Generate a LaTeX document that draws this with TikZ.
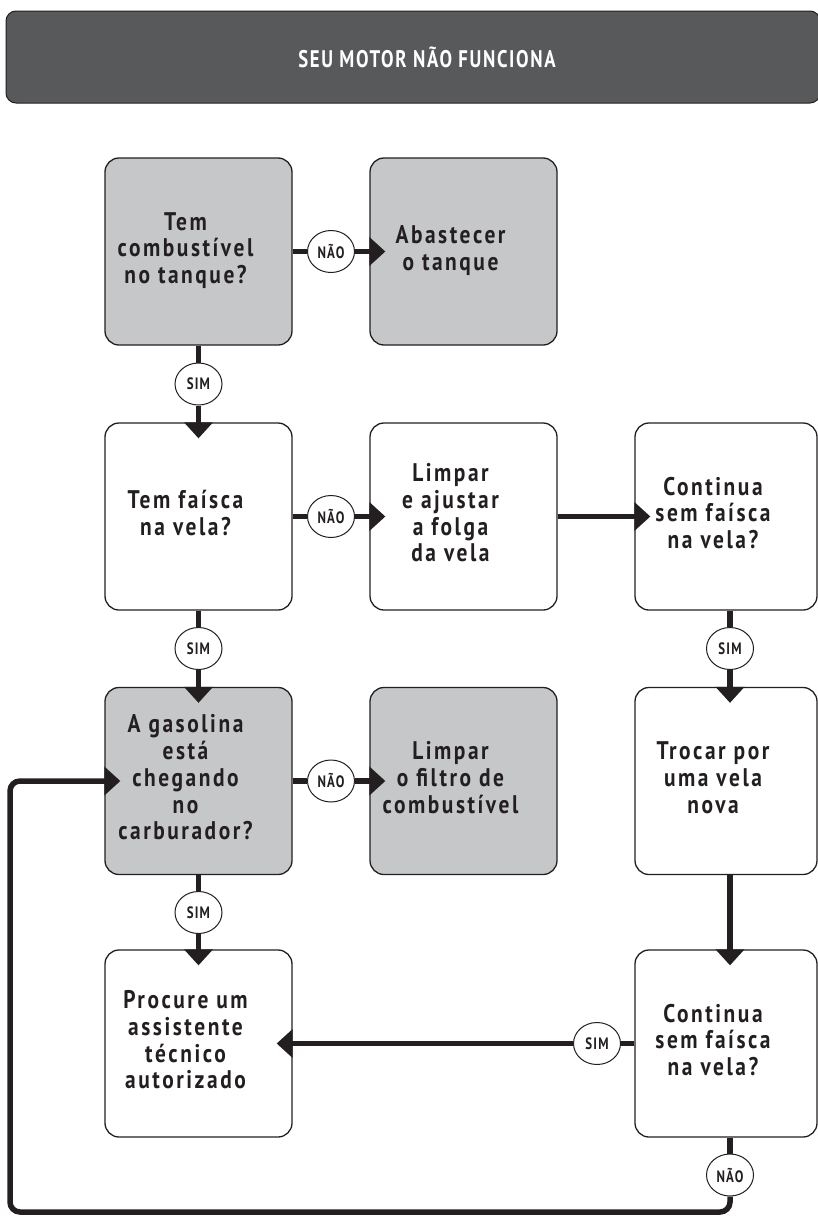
\documentclass[tikz,border=0pt]{standalone}
\usepackage{fontspec}
\setmainfont{PT Sans}[FakeStretch=0.84, LetterSpace=10]
\newfontfamily\narrowfont{PT Sans}[FakeStretch=0.78, LetterSpace=7]
\usetikzlibrary{arrows.meta,calc,shapes.geometric}
\definecolor{hdr}{HTML}{58595B}
\definecolor{boxgray}{HTML}{C6C7C9}
\definecolor{ink}{HTML}{231F20}
% box text, set slightly left of the box centre as in the reference
\newcommand{\bxtext}[1]{\begin{tabular}{@{}c@{\hspace*{26pt}}}#1\end{tabular}}
\tikzset{
  box/.style={draw=ink, line width=1.3pt, rounded corners=14pt, minimum width=187pt,
    minimum height=187pt, inner sep=0pt, text=ink,
    font=\fontsize{25.5}{26.7}\selectfont\bfseries},
  graybox/.style={box, fill=boxgray},
  narrowbox/.style={box, minimum width=182pt},
  lbl/.style={ellipse, draw=ink, fill=white, line width=1pt, minimum width=47pt,
    minimum height=42pt, inner sep=0pt, text=ink, font=\narrowfont\fontsize{16.5}{17}\selectfont\bfseries},
  conn/.style={draw=ink, line width=5.5pt},
  arr/.style={conn, -{Triangle[length=16pt,width=28pt]}, shorten >=-16pt},
  header/.style={draw=ink, line width=1pt, fill=hdr, rounded corners=10pt,
    minimum width=814pt, minimum height=92pt, inner sep=0pt, text=white,
    font=\narrowfont\fontsize{24}{26}\selectfont\bfseries}
}
\begin{document}
\begin{tikzpicture}[x=1pt,y=-1pt]
\useasboundingbox (0,0) rectangle (818,1218);
\node[header] (hdr) at (413,57) {\hspace*{28pt}SEU MOTOR NÃO FUNCIONA};

% boxes
\node[graybox] (b11) at (198.5,251.5) {\bxtext{Tem\\combustível\\no tanque?}};
\node[graybox] (b12) at (463.5,251.5) {\bxtext{Abastecer\\o tanque}};
\node[box] (b21) at (198.5,516.5) {\bxtext{Tem faísca\\na vela?}};
\node[box] (b22) at (463.5,516.5) {\bxtext{Limpar\\e ajustar\\a folga\\da vela}};
\node[narrowbox] (b23) at (726,516.5) {\bxtext{Continua\\sem faísca\\na vela?}};
\node[graybox] (b31) at (198.5,781) {\bxtext{A gasolina\\está\\chegando\\no\\carburador?}};
\node[graybox] (b32) at (463.5,781) {\bxtext{Limpar\\o filtro de\\combustível}};
\node[narrowbox] (b33) at (726,781) {\bxtext{Trocar por\\uma vela\\nova}};
\node[box] (b41) at (198.5,1043.5) {\bxtext{Procure um\\assistente\\técnico\\autorizado}};
\node[narrowbox] (b43) at (726,1043.5) {\bxtext{Continua\\sem faísca\\na vela?}};

% labels
\node[lbl] (n1) at (331,251.5) {NÃO};
\node[lbl] (s1) at (198.5,384) {SIM};
\node[lbl] (n2) at (331,516.5) {NÃO};
\node[lbl] (s2) at (198.5,648.5) {SIM};
\node[lbl] (s3) at (730,648.5) {SIM};
\node[lbl] (n3) at (331,781) {NÃO};
\node[lbl] (s4) at (198.5,912.5) {SIM};
\node[lbl] (s5) at (597,1043.5) {SIM};
\node[lbl] (n4) at (730,1175) {NÃO};
\coordinate (loopbl) at (10,1212);

% connectors
\draw[conn] (b11.east) -- (n1.west);
\draw[arr] (n1.east) -- (b12.west);
\draw[conn] (b11.south) -- (s1.north);
\draw[arr] (s1.south) -- (b21.north);

\draw[conn] (b21.east) -- (n2.west);
\draw[arr] (n2.east) -- (b22.west);
\draw[arr] (b22.east) -- (b23.west);
\draw[conn] (b21.south) -- (s2.north);
\draw[arr] (s2.south) -- (b31.north);
\draw[conn] (s3.north |- b23.south) -- (s3.north);
\draw[arr] (s3.south) -- (s3.south |- b33.north);

\draw[conn] (b31.east) -- (n3.west);
\draw[arr] (n3.east) -- (b32.west);
\draw[conn] (b31.south) -- (s4.north);
\draw[arr] (s4.south) -- (b41.north);
\draw[arr] (b33.south -| s3) -- (b43.north -| s3);

\draw[conn] (b43.west) -- (s5.east);
\draw[arr] (s5.west) -- (b41.east);
\draw[conn] (n4.north |- b43.south) -- (n4.north);
\draw[arr, rounded corners=10pt] (n4.south) |- (loopbl) |- (b31.west);
\end{tikzpicture}
\end{document}
